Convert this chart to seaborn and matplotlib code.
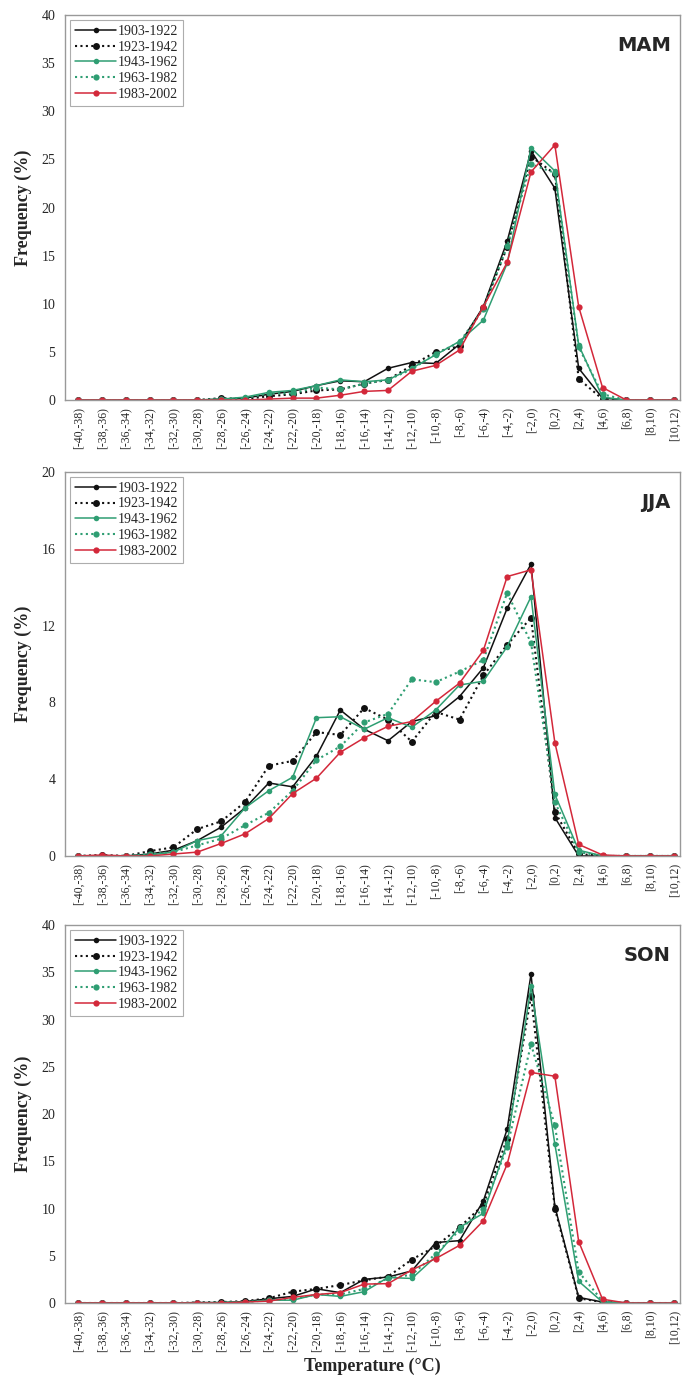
import numpy as np
import pandas as pd
import matplotlib
matplotlib.use('Agg')
import matplotlib.pyplot as plt
import seaborn as sns

sns.set_style('white')
plt.rcParams['font.family'] = ['Liberation Serif', 'DejaVu Serif']

# 온도 구간 (x축 범주)
categories = ['[-40,-38)', '[-38,-36)', '[-36,-34)', '[-34,-32)', '[-32,-30)', '[-30,-28)',
              '[-28,-26)', '[-26,-24)', '[-24,-22)', '[-22,-20)', '[-20,-18)', '[-18,-16)',
              '[-16,-14)', '[-14,-12)', '[-12,-10)', '[-10,-8)', '[-8,-6)', '[-6,-4)',
              '[-4,-2)', '[-2,0)', '[0,2)', '[2,4)', '[4,6)', '[6,8)', '[8,10)', '[10,12)']
periods = ['1903-1922', '1923-1942', '1943-1962', '1963-1982', '1983-2002']
seasons = ['MAM', 'JJA', 'SON']

# MAM
mam_1903 = [0, 0, 0, 0, 0, 0, 0.1, 0.2, 0.6, 0.9, 1.5, 2.0, 1.9, 3.3, 3.9, 3.8, 5.8, 9.7, 16.5, 25.9, 22.0, 3.3, 0.2, 0, 0, 0]
mam_1923 = [0, 0, 0, 0, 0, 0, 0.2, 0.1, 0.4, 0.6, 1.0, 1.1, 1.7, 2.1, 3.6, 5.0, 5.6, 9.6, 15.9, 25.3, 23.5, 2.2, 0.1, 0, 0, 0]
mam_1943 = [0, 0, 0, 0, 0, 0, 0.1, 0.3, 0.8, 1.0, 1.5, 2.1, 1.9, 2.1, 3.3, 4.7, 6.1, 8.3, 14.2, 26.2, 23.8, 5.7, 0.3, 0, 0, 0]
mam_1963 = [0, 0, 0, 0, 0, 0, 0.1, 0.2, 0.7, 0.7, 1.3, 1.1, 1.7, 2.1, 3.2, 4.8, 6.0, 9.5, 16.0, 24.5, 23.6, 5.5, 0.6, 0, 0, 0]
mam_1983 = [0, 0, 0, 0, 0, 0, 0, 0, 0.1, 0.2, 0.2, 0.5, 0.9, 1.0, 3.0, 3.6, 5.2, 9.7, 14.3, 23.7, 26.5, 9.7, 1.3, 0, 0, 0]

# JJA
jja_1903 = [0, 0, 0, 0.1, 0.3, 0.8, 1.5, 2.5, 3.8, 3.6, 5.2, 7.6, 6.6, 6.0, 7.0, 7.3, 8.3, 9.8, 12.9, 15.2, 2.0, 0, 0, 0, 0, 0]
jja_1923 = [0, 0.05, 0, 0.25, 0.45, 1.4, 1.8, 2.8, 4.7, 4.95, 6.45, 6.3, 7.7, 7.1, 5.95, 7.5, 7.1, 9.4, 11.0, 12.4, 2.3, 0.1, 0, 0, 0, 0]
jja_1943 = [0, 0, 0, 0.05, 0.2, 0.8, 1.05, 2.5, 3.4, 4.1, 7.2, 7.25, 6.6, 7.2, 6.7, 7.6, 8.9, 9.1, 10.9, 13.5, 3.2, 0.3, 0, 0, 0, 0]
jja_1963 = [0, 0, 0, 0.1, 0.2, 0.55, 0.9, 1.6, 2.25, 3.4, 5.0, 5.7, 6.95, 7.4, 9.2, 9.05, 9.6, 10.2, 13.7, 11.1, 2.8, 0.2, 0, 0, 0, 0]
jja_1983 = [0, 0.05, 0, 0, 0.1, 0.2, 0.65, 1.15, 1.95, 3.25, 4.05, 5.4, 6.15, 6.75, 7.0, 8.05, 9.0, 10.7, 14.55, 14.9, 5.9, 0.6, 0.05, 0, 0, 0]

# SON
son_1903 = [0, 0, 0, 0, 0, 0.05, 0.05, 0.15, 0.45, 0.7, 1.5, 1.1, 2.5, 2.75, 3.4, 6.4, 6.6, 10.8, 18.4, 34.8, 10.2, 0.6, 0.1, 0, 0, 0]
son_1923 = [0, 0, 0, 0, 0, 0.05, 0.1, 0.2, 0.5, 1.2, 1.5, 1.9, 2.4, 2.8, 4.6, 6.0, 8.0, 10.4, 17.4, 32.5, 10.0, 0.5, 0.1, 0, 0, 0]
son_1943 = [0, 0, 0, 0, 0, 0, 0.05, 0.1, 0.3, 0.3, 0.9, 0.7, 1.2, 2.7, 2.6, 4.9, 8.0, 9.5, 16.9, 33.5, 16.8, 2.3, 0.1, 0, 0, 0]
son_1963 = [0, 0, 0, 0, 0, 0, 0.05, 0.1, 0.3, 0.4, 0.9, 0.9, 1.5, 2.6, 3.0, 5.2, 7.7, 10.0, 16.5, 27.4, 18.8, 3.3, 0.2, 0, 0, 0]
son_1983 = [0, 0, 0, 0, 0, 0, 0, 0.1, 0.2, 0.6, 0.9, 1.1, 2.0, 2.05, 3.5, 4.7, 6.1, 8.7, 14.7, 24.4, 24.0, 6.5, 0.4, 0, 0, 0]

season_data = {
    'MAM': [mam_1903, mam_1923, mam_1943, mam_1963, mam_1983],
    'JJA': [jja_1903, jja_1923, jja_1943, jja_1963, jja_1983],
    'SON': [son_1903, son_1923, son_1943, son_1963, son_1983],
}
ylims = {'MAM': (40, [0, 5, 10, 15, 20, 25, 30, 35, 40]),
         'JJA': (20, [0, 4, 8, 12, 16, 20]),
         'SON': (40, [0, 5, 10, 15, 20, 25, 30, 35, 40])}

BLACK = '#111111'
GREEN = '#2f9e73'
RED = '#d3283a'
DOT = (0, (1, 1.6))
styles = [
    dict(color=BLACK, linestyle='-', linewidth=1.1, markersize=4),
    dict(color=BLACK, linestyle=DOT, linewidth=1.5, markersize=5),
    dict(color=GREEN, linestyle='-', linewidth=1.1, markersize=4),
    dict(color=GREEN, linestyle=DOT, linewidth=1.5, markersize=4.5),
    dict(color=RED, linestyle='-', linewidth=1.1, markersize=4.5),
]

fig = plt.figure(figsize=(6.83, 13.79), dpi=100)
positions = [[0.0952, 0.7099, 0.9004, 0.2792],
             [0.0952, 0.3793, 0.9004, 0.2785],
             [0.0952, 0.0551, 0.9004, 0.2741]]

x = np.arange(len(categories))
for pos, season in zip(positions, seasons):
    ax = fig.add_axes(pos)
    for period, vals, st in zip(periods, season_data[season], styles):
        df = pd.DataFrame({'x': x, 'y': vals})
        sns.lineplot(data=df, x='x', y='y', ax=ax, marker='o', markeredgewidth=0,
                     label=period, sort=False, **st)

    ymax, yticks = ylims[season]
    ax.set_ylim(0, ymax)
    ax.set_yticks(yticks)
    ax.set_xlim(-0.55, 25.25)
    ax.set_xticks(x)
    ax.set_xticklabels(categories, rotation=90, fontsize=8.5)
    ax.set_xticks(x[:-1] + 0.5, minor=True)
    ax.tick_params(axis='x', which='major', length=0, pad=5)
    ax.tick_params(axis='x', which='minor', length=3, color='#888888', direction='out')
    ax.tick_params(axis='y', length=3, color='#888888', direction='out', labelsize=10, pad=4)
    for sp in ax.spines.values():
        sp.set_color('#999999')
        sp.set_linewidth(1.0)

    ax.set_ylabel('Frequency (%)', fontsize=13, fontweight='bold', labelpad=7)
    if season == 'SON':
        ax.set_xlabel('Temperature (°C)', fontsize=13, fontweight='bold', labelpad=4)
    else:
        ax.set_xlabel('')

    ax.text(0.985, 0.945, season, transform=ax.transAxes, ha='right', va='top',
            fontsize=14, fontweight='bold', family='DejaVu Sans')

    leg = ax.legend(loc='upper left', fontsize=10, frameon=True, fancybox=False,
                    edgecolor='#999999', handlelength=3.0, handletextpad=0.1,
                    labelspacing=0.2, borderpad=0.35, borderaxespad=0.35)
    leg.get_frame().set_linewidth(0.8)

plt.savefig('out.png', dpi=100, facecolor='white')
